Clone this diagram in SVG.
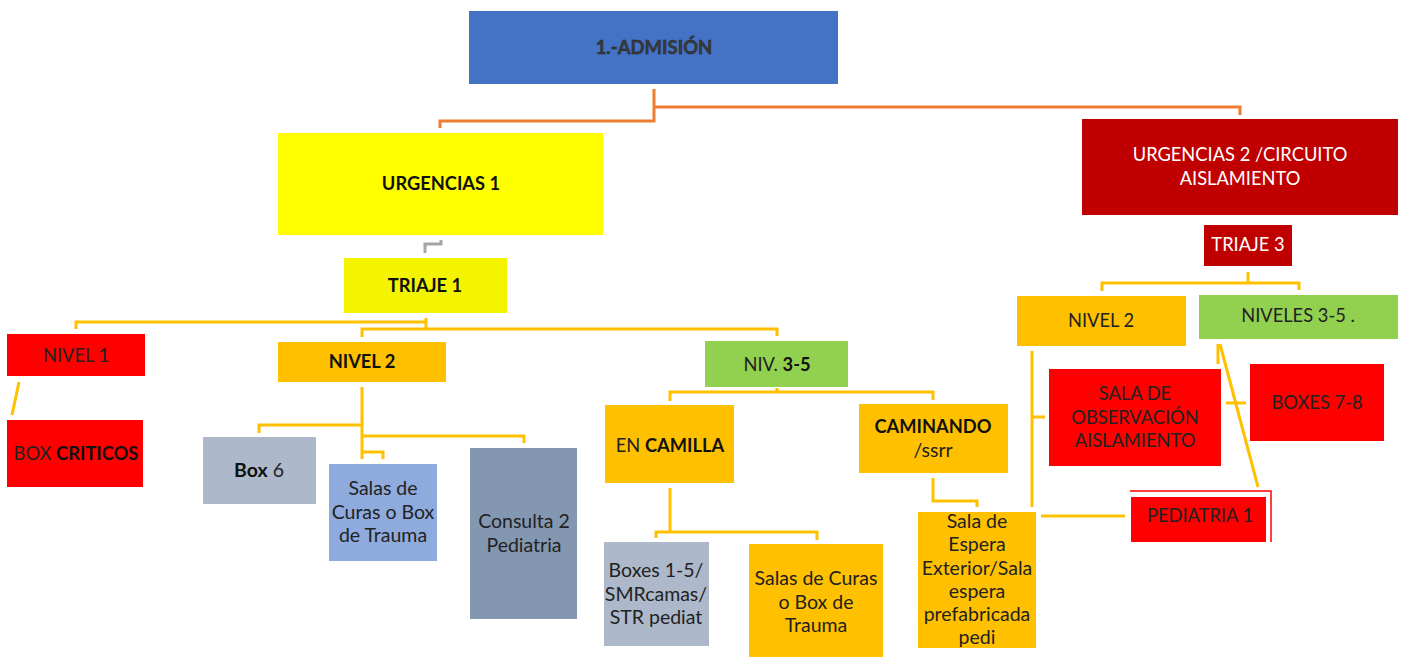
<svg xmlns="http://www.w3.org/2000/svg" width="1404" height="657" viewBox="0 0 1404 657">
<style>
text{font-family:Lato,"Liberation Sans",sans-serif;font-size:18.3px;fill:#222;text-anchor:middle}
.lc{font-size:19.5px}
.b{font-weight:bold;fill:#111}
.w{fill:#fff}
.yl{fill:none;stroke:#FFC000;stroke-width:3}
.or{fill:none;stroke:#ED7D31;stroke-width:3}
.gr{fill:none;stroke:#A5A5A5;stroke-width:3}
.rd{fill:#FF0000}
.og{fill:#FFC000}
.gn{fill:#92D050}
</style>
<rect width="1404" height="657" fill="#fff"/>
<g id="connectors">
<path class="or" d="M654 89V121H440V128"/>
<path class="or" d="M654 107H1240V115"/>
<path class="gr" d="M441 240V244H425V253"/>
<path class="yl" d="M426 318V329M426 322H76V329M362 337V329H777V336"/>
<path class="yl" d="M19 382L12 415"/>
<path class="yl" d="M362 387V459M362 425H259V433M362 452H383V459M362 436H524V443"/>
<path class="yl" d="M777 388V392M670 401V392H933V400"/>
<path class="yl" d="M670 488V532M656 538V532H817V540"/>
<path class="yl" d="M933 478V501H977V507"/>
<path class="yl" d="M1248 272V283M1102 291V283H1299V290"/>
<path class="yl" d="M1032 351V507M1032 417H1045"/>
<path class="yl" d="M1041 516H1125"/>
<path class="yl" d="M1226 403H1246"/>
<path class="yl" d="M1218 344V364M1220 344L1258 487"/>
</g>
<g id="admision"><rect x="469" y="11" width="369" height="73" fill="#4472C4"/><text x="654" y="54" class="b" style="fill:#3a3a3a;stroke:#222;stroke-width:0.4;font-size:18.5px">1.-ADMISIÓN</text></g>
<g id="urgencias1"><rect x="278" y="133" width="325" height="102" fill="#FFFF00"/><text x="441" y="190" class="b">URGENCIAS 1</text></g>
<g id="triaje1"><rect x="344" y="258" width="163" height="55" fill="#F4F400"/><text x="425" y="292" class="b">TRIAJE 1</text></g>
<g id="urgencias2"><rect x="1082" y="119" width="316" height="96" fill="#C00000"/><text x="1240" y="161" class="w">URGENCIAS 2 /CIRCUITO</text><text x="1240" y="185" class="w">AISLAMIENTO</text></g>
<g id="triaje3"><rect x="1204" y="225" width="88" height="41" fill="#C00000"/><text x="1248" y="251" class="w">TRIAJE 3</text></g>
<g id="nivel1"><rect class="rd" x="7" y="334" width="138" height="42"/><text x="76" y="362">NIVEL 1</text></g>
<g id="boxcriticos"><rect class="rd" x="7" y="420" width="136" height="67"/><text x="76" y="460">BOX <tspan class="b">CRITICOS</tspan></text></g>
<g id="nivel2a"><rect class="og" x="278" y="342" width="168" height="40"/><text x="362" y="368" class="b">NIVEL 2</text></g>
<g id="niv35"><rect class="gn" x="705" y="341" width="143" height="46"/><text x="777" y="371">NIV. <tspan class="b">3-5</tspan></text></g>
<g id="box6"><rect x="203" y="437" width="113" height="67" fill="#ADB9CA"/><text x="259" y="477" class="lc"><tspan class="b">Box</tspan> 6</text></g>
<g id="salascuras1"><rect x="329" y="464" width="108" height="97" fill="#8FAADC"/><text class="lc" x="383" y="495">Salas de</text><text class="lc" x="383" y="519">Curas o Box</text><text class="lc" x="383" y="542">de Trauma</text></g>
<g id="consulta2"><rect x="470" y="448" width="107" height="171" fill="#8497B0"/><text class="lc" x="524" y="528">Consulta 2</text><text class="lc" x="524" y="552">Pediatria</text></g>
<g id="encamilla"><rect class="og" x="605" y="405" width="129" height="78"/><text x="670" y="452">EN <tspan class="b">CAMILLA</tspan></text></g>
<g id="caminando"><rect class="og" x="859" y="404" width="149" height="69"/><text x="933" y="433" class="b">CAMINANDO</text><text class="lc" x="933" y="457">/ssrr</text></g>
<g id="boxes15"><rect x="604" y="542" width="105" height="104" fill="#ADB9CA"/><text class="lc" x="656" y="577">Boxes 1-5/</text><text class="lc" x="656" y="601">SMRcamas/</text><text class="lc" x="656" y="624">STR pediat</text></g>
<g id="salascuras2"><rect class="og" x="749" y="544" width="134" height="113"/><text class="lc" x="816" y="585">Salas de Curas</text><text class="lc" x="816" y="609">o Box de</text><text class="lc" x="816" y="632">Trauma</text></g>
<g id="salaespera"><rect class="og" x="918" y="512" width="118" height="136"/><text class="lc" x="977" y="528">Sala de</text><text class="lc" x="977" y="551">Espera</text><text class="lc" x="977" y="575">Exterior/Sala</text><text class="lc" x="977" y="598">espera</text><text class="lc" x="977" y="621">prefabricada</text><text class="lc" x="977" y="644">pedi</text></g>
<g id="nivel2b"><rect class="og" x="1017" y="296" width="169" height="50"/><text x="1101" y="327">NIVEL 2</text></g>
<g id="niveles35"><rect class="gn" x="1199" y="295" width="199" height="44"/><text x="1298" y="322">NIVELES 3-5 .</text></g>
<g id="salaobs"><rect class="rd" x="1049" y="369" width="172" height="97"/><text x="1135" y="400">SALA DE</text><text x="1135" y="424">OBSERVACIÓN</text><text x="1135" y="447">AISLAMIENTO</text></g>
<g id="boxes78"><rect class="rd" x="1250" y="364" width="134" height="77"/><text x="1317" y="409">BOXES 7-8</text></g>
<g id="pediatria1"><rect class="rd" x="1131" y="497" width="135" height="45"/><path d="M1130 491H1271V542" fill="none" stroke="#FF0000" stroke-width="1.5"/><text x="1200" y="522">PEDIATRIA 1</text></g>
</svg>
